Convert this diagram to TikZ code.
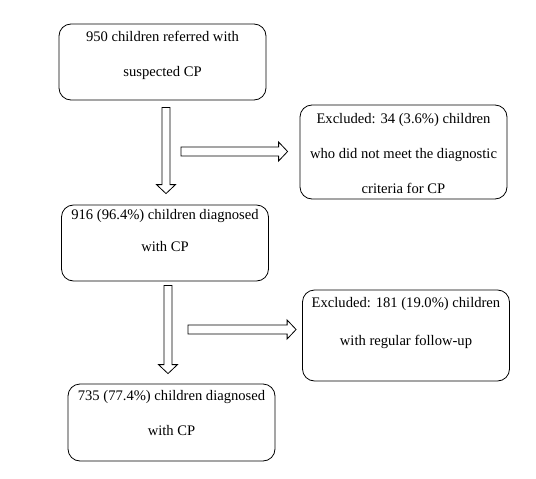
\documentclass[tikz,border=0pt]{standalone}
\usepackage{fontspec}
\setmainfont{LiberationSerif}[Extension=.ttf, UprightFont=*-Regular, BoldFont=*-Bold]
\usetikzlibrary{calc}

\tikzset{
  box/.style={draw, rounded corners=12pt, line width=0.8pt, minimum width=207pt},
  txt/.style={anchor=north, align=center, inner sep=0pt, font=\fontsize{14.6}{35}\selectfont},
  varrow/.style={line width=0.8pt, to path={let \p1=(\tikztostart), \p2=(\tikztotarget) in
    (\x1-4pt,\y1) -- (\x1+4pt,\y1) -- (\x1+4pt,\y2+9pt) -- (\x1+9.5pt,\y2+9pt)
    -- (\x1,\y2) -- (\x1-9.5pt,\y2+9pt) -- (\x1-4pt,\y2+9pt) -- cycle}},
  harrow/.style={line width=0.8pt, to path={let \p1=(\tikztostart), \p2=(\tikztotarget) in
    (\x1,\y1+4.5pt) -- (\x2-9pt,\y1+4.5pt) -- (\x2-9pt,\y1+9.5pt) -- (\x2,\y1)
    -- (\x2-9pt,\y1-9.5pt) -- (\x2-9pt,\y1-4.5pt) -- (\x1,\y1-4.5pt) -- cycle}}
}

\begin{document}
\begin{tikzpicture}[x=1pt, y=-1pt]
\useasboundingbox (0,0) rectangle (536,479);

% boxes
\node[box, minimum height=76pt] (referred) at (162.5,62) {};
\node[box, minimum height=94pt] (excluded1) at (403.5,152) {};
\node[box, minimum height=76pt] (diagnosed1) at (165,243) {};
\node[box, minimum height=91pt] (excluded2) at (406,335.5) {};
\node[box, minimum height=77pt] (diagnosed2) at (171.5,422.5) {};

% texts
\node[txt] (referredtxt) at ([yshift=-7pt]referred.north) {950 children referred with\\suspected CP};
\node[txt] (excluded1txt) at ([yshift=-9pt]excluded1.north) {Excluded: 34 (3.6\%) children\\who did not meet the diagnostic\\criteria for CP};
\node[txt] (diagnosed1txt) at ([yshift=-5pt]diagnosed1.north) {916 (96.4\%) children diagnosed\\[-3pt]with CP};
\node[txt] (excluded2txt) at ([yshift=-8pt]excluded2.north) {Excluded: 181 (19.0\%) children\\[3pt]with regular follow-up};
\node[txt] (diagnosed2txt) at ([yshift=-7pt]diagnosed2.north) {735 (77.4\%) children diagnosed\\with CP};

% arrows
\coordinate (side1) at (181,151.5);
\coordinate (side2) at (188,329.5);
\draw[varrow] ([xshift=3.5pt,yshift=-7pt]referred.south) to ([yshift=11pt]diagnosed1.north);
\draw[harrow] (side1) to ([xshift=-12pt]excluded1.west);
\draw[varrow] ([xshift=3pt,yshift=-4pt]diagnosed1.south) to ([yshift=10pt]diagnosed2.north);
\draw[harrow] (side2) to ([xshift=-6pt]excluded2.west);
\end{tikzpicture}
\end{document}
